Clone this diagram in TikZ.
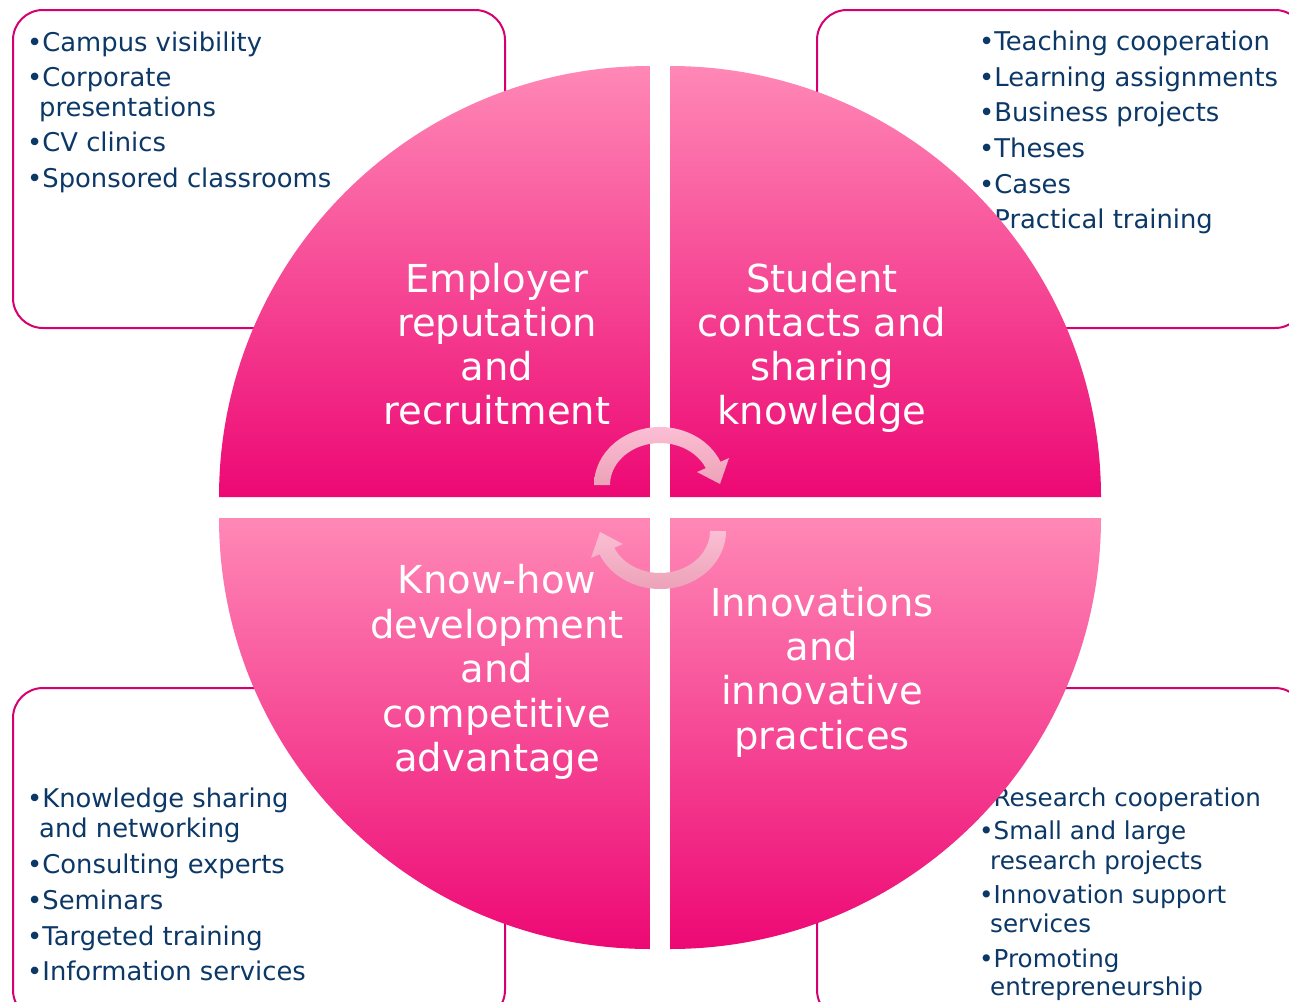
\documentclass[tikz,border=0pt]{standalone}
\usepackage{fontspec}
\setmainfont{DejaVu Sans}
\definecolor{boxline}{RGB}{214,0,112}
\definecolor{navy}{RGB}{12,56,104}
\definecolor{qlight}{RGB}{255,136,182}
\definecolor{qdark}{RGB}{237,8,116}
\definecolor{alight}{RGB}{251,190,212}
\definecolor{adark}{RGB}{236,162,184}
\begin{document}
\begin{tikzpicture}[x=1pt,y=-1pt,
  box/.style={draw=boxline,line width=2pt,rounded corners=30pt},
  item/.style={anchor=base west,inner sep=0pt,text=navy,font=\fontsize{25.8}{30}\selectfont},
  itemsm/.style={anchor=base west,inner sep=0pt,text=navy,font=\fontsize{24.6}{28}\selectfont},
  quad/.style={top color=qlight,bottom color=qdark},
  lab/.style={anchor=base,inner sep=0pt,text=white,font=\fontsize{38.5}{44}\selectfont},
  cyc/.style={top color=alight,bottom color=adark}]
\useasboundingbox (0,0) rectangle (1289,1001);
\clip (0,0) rectangle (1289,1001);
\fill[white] (0,0) rectangle (1289,1001);

% boxes
\draw[box] (13,10) rectangle (505,328);
\draw[box] (817,10) rectangle (1305,328);
\draw[box] (13,688) rectangle (505,1020);
\draw[box] (817,688) rectangle (1305,1020);

% top-left items
\node[item] (tl1) at (27,51) {•Campus visibility};
\node[item] (tl2) at (27,86) {•Corporate};
\node[item] (tl2b) at (39,116) {presentations};
\node[item] (tl3) at (27,151) {•CV clinics};
\node[item] (tl4) at (27,187) {•Sponsored classrooms};

% top-right items
\node[item] (tr1) at (979,50) {•Teaching cooperation};
\node[item] (tr2) at (979,86) {•Learning assignments};
\node[item] (tr3) at (979,121) {•Business projects};
\node[item] (tr4) at (979,157) {•Theses};
\node[item] (tr5) at (979,193) {•Cases};
\node[item] (tr6) at (979,228) {•Practical training};

% bottom-left items
\node[item] (bl1) at (27,807) {•Knowledge sharing};
\node[item] (bl1b) at (39,837) {and networking};
\node[item] (bl2) at (27,873) {•Consulting experts};
\node[item] (bl3) at (27,909) {•Seminars};
\node[item] (bl4) at (27,945) {•Targeted training};
\node[item] (bl5) at (27,980) {•Information services};

% bottom-right items
\node[itemsm] (br1) at (979,806) {•Research cooperation};
\node[itemsm] (br2) at (979,839) {•Small and large};
\node[itemsm] (br2b) at (990,869) {research projects};
\node[itemsm] (br3) at (979,903) {•Innovation support};
\node[itemsm] (br3b) at (990,932) {services};
\node[itemsm] (br4) at (979,967) {•Promoting};
\node[itemsm] (br4b) at (990,995) {entrepreneurship};

% quadrants
\shade[quad] (650,497) -- (219,497) arc[start angle=180,end angle=270,radius=431] -- cycle;
\shade[quad] (670,497) -- (670,66) arc[start angle=270,end angle=360,radius=431] -- cycle;
\shade[quad] (650,518) -- (650,949) arc[start angle=90,end angle=180,radius=431] -- cycle;
\shade[quad] (670,518) -- (1101,518) arc[start angle=0,end angle=90,radius=431] -- cycle;

% quadrant labels
\node[lab] (q1a) at (497,292) {Employer};
\node[lab] (q1b) at (497,336) {reputation};
\node[lab] (q1c) at (497,380) {and};
\node[lab] (q1d) at (497,424) {recruitment};

\node[lab] (q2a) at (822,292) {Student};
\node[lab] (q2b) at (822,336) {contacts and};
\node[lab] (q2c) at (822,380) {sharing};
\node[lab] (q2d) at (822,424) {knowledge};

\node[lab] (q3a) at (497,593) {Know-how};
\node[lab] (q3b) at (497,638) {development};
\node[lab] (q3c) at (497,682) {and};
\node[lab] (q3d) at (497,727) {competitive};
\node[lab] (q3e) at (497,771) {advantage};

\node[lab] (q4a) at (822,616) {Innovations};
\node[lab] (q4b) at (822,660) {and};
\node[lab] (q4c) at (822,704) {innovative};
\node[lab] (q4d) at (822,749) {practices};

% cycle arrows
\shade[cyc] (594,485) arc[start angle=180,end angle=336.4,x radius=66,y radius=58]
  -- (729,458) -- (720,484) -- (697,472) -- (705.8,468.2)
  arc[start angle=336.4,end angle=180,x radius=50,y radius=42] -- cycle;
\shade[cyc] (726,531) arc[start angle=0,end angle=156.4,x radius=66,y radius=58]
  -- (591,558) -- (600,532) -- (623,544) -- (614.2,547.8)
  arc[start angle=156.4,end angle=0,x radius=50,y radius=42] -- cycle;
\end{tikzpicture}
\end{document}
